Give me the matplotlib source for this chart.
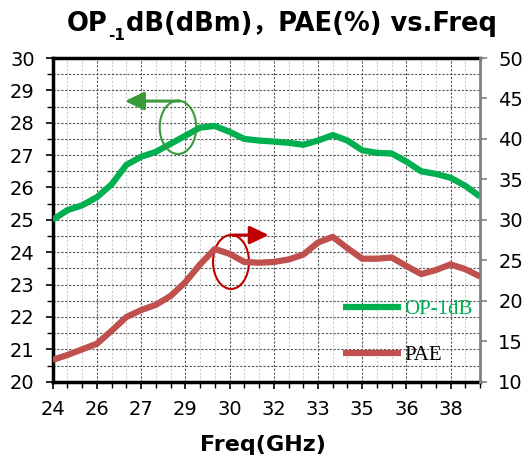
import numpy as np
import matplotlib
matplotlib.use('Agg')
import matplotlib.pyplot as plt
from matplotlib.patches import Ellipse

# data (0.5 GHz steps)
freq = [24.0, 24.5, 25.0, 25.5, 26.0, 26.5, 27.0, 27.5, 28.0, 28.5,
        29.0, 29.5, 30.0, 30.5, 31.0, 31.5, 32.0, 32.5, 33.0, 33.5,
        34.0, 34.5, 35.0, 35.5, 36.0, 36.5, 37.0, 37.5, 38.0, 38.5]
op1db = [25.0, 25.3, 25.45, 25.7, 26.1, 26.7, 26.95, 27.1, 27.35, 27.6,
         27.85, 27.9, 27.72, 27.5, 27.45, 27.42, 27.38, 27.32, 27.45, 27.62,
         27.45, 27.15, 27.07, 27.05, 26.8, 26.5, 26.42, 26.3, 26.05, 25.72]
pae = [12.7, 13.3, 14.0, 14.7, 16.3, 18.0, 18.85, 19.5, 20.6, 22.3,
       24.5, 26.4, 25.8, 24.8, 24.7, 24.8, 25.1, 25.7, 27.2, 27.9,
       26.5, 25.2, 25.2, 25.35, 24.3, 23.3, 23.8, 24.5, 23.9, 23.0]

x_ticks = [24, 25.5, 27, 28.5, 30, 31.5, 33, 34.5, 36, 37.5]
x_labels = ['24', '26', '27', '29', '30', '32', '33', '35', '36', '38']

green = '#00B050'
red = '#C0504D'

fig = plt.figure(figsize=(5.27, 4.59), dpi=100)
ax = fig.add_axes([0.1, 0.1684, 0.811, 0.7052])
ax2 = ax.twinx()

l1, = ax.plot(freq, op1db, color=green, lw=4.5, solid_joinstyle='round',
              solid_capstyle='butt', zorder=3)
l2, = ax2.plot(freq, pae, color=red, lw=4.5, solid_joinstyle='round',
               solid_capstyle='butt', zorder=3)

ax.set_xlim(24, 38.5)
ax.set_ylim(20, 30)
ax2.set_ylim(10, 50)

ax.set_xticks(x_ticks)
ax.set_xticklabels(x_labels)
ax.set_xticks(np.arange(24, 38.51, 0.5), minor=True)
ax.set_yticks(np.arange(20, 30.1, 1))
ax.set_yticks(np.arange(20, 30.1, 0.5), minor=True)
ax2.set_yticks(np.arange(10, 50.1, 5))

# grid
ax.grid(which='major', axis='x', color='#555555', ls=(0, (2, 1.5)), lw=0.8)
ax.grid(which='minor', axis='x', color='#cccccc', ls=(0, (2, 1.5)), lw=0.8)
ax.grid(which='both', axis='y', color='#555555', ls=(0, (2, 1.5)), lw=0.8)
ax.set_axisbelow(True)

for s in ['left', 'top', 'bottom']:
    ax.spines[s].set_linewidth(2.5)
    ax.spines[s].set_color('black')
ax.spines['right'].set_visible(False)
for s in ['left', 'top', 'bottom']:
    ax2.spines[s].set_visible(False)
ax2.spines['right'].set_color('#808080')
ax2.spines['right'].set_linewidth(2)

ax.tick_params(axis='both', which='major', direction='out', length=5, width=1.2,
               labelsize=14, pad=8)
ax.tick_params(axis='both', which='minor', direction='out', length=4, width=1.0)
ax2.tick_params(axis='y', which='major', direction='out', length=5, width=1.2,
                color='#808080', labelsize=14, pad=8)

ax.set_xlabel('Freq(GHz)', fontsize=16, fontweight='bold')
ax.xaxis.set_label_coords(0.493, -0.1956)
ax.xaxis.label.set_va('center')

# ellipses + arrows
ax.add_patch(Ellipse((28.25, 27.86), 1.24, 1.65, fill=False, ec='#3A9A3A', lw=1.5, zorder=4))
ax.annotate('', xy=(26.45, 28.67), xytext=(28.31, 28.67),
            arrowprops=dict(arrowstyle='-|>,head_length=1.15,head_width=0.55',
                            mutation_scale=10, color='#3A9A3A', lw=2.2,
                            shrinkA=0, shrinkB=0), zorder=4)
ax.add_patch(Ellipse((30.05, 23.7), 1.22, 1.67, fill=False, ec='#C00000', lw=1.5, zorder=4))
ax.annotate('', xy=(31.33, 24.53), xytext=(30.1, 24.53),
            arrowprops=dict(arrowstyle='-|>,head_length=1.15,head_width=0.55',
                            mutation_scale=10, color='#C00000', lw=2.2,
                            shrinkA=0, shrinkB=0), zorder=4)

leg = ax2.legend([l1, l2], ['OP-1dB', 'PAE'], loc='upper left',
                 bbox_to_anchor=(0.655, 0.285), frameon=False, borderpad=0,
                 handlelength=2.8, handletextpad=0.15, labelspacing=1.25,
                 prop={'family': 'Liberation Serif', 'size': 15})
leg.get_texts()[0].set_color(green)
leg.get_texts()[1].set_color('black')

# title with subscript
t1 = fig.text(0.127, 0.919, 'OP', fontsize=18.5, fontweight='bold', va='bottom')
t2 = ax.annotate('-1', xy=(1, 0), xycoords=t1, xytext=(0.5, -4),
                 textcoords='offset points', fontsize=11, fontweight='bold',
                 va='bottom', annotation_clip=False)
ax.annotate('dB(dBm)，PAE(%) vs.Freq', xy=(1, 0), xycoords=(t2, t1),
            xytext=(0.5, 0), textcoords='offset points', fontsize=18.5,
            fontweight='bold', va='bottom', family=['DejaVu Sans', 'Noto Sans CJK SC'],
            annotation_clip=False)

fig.savefig('out.png', dpi=100)
